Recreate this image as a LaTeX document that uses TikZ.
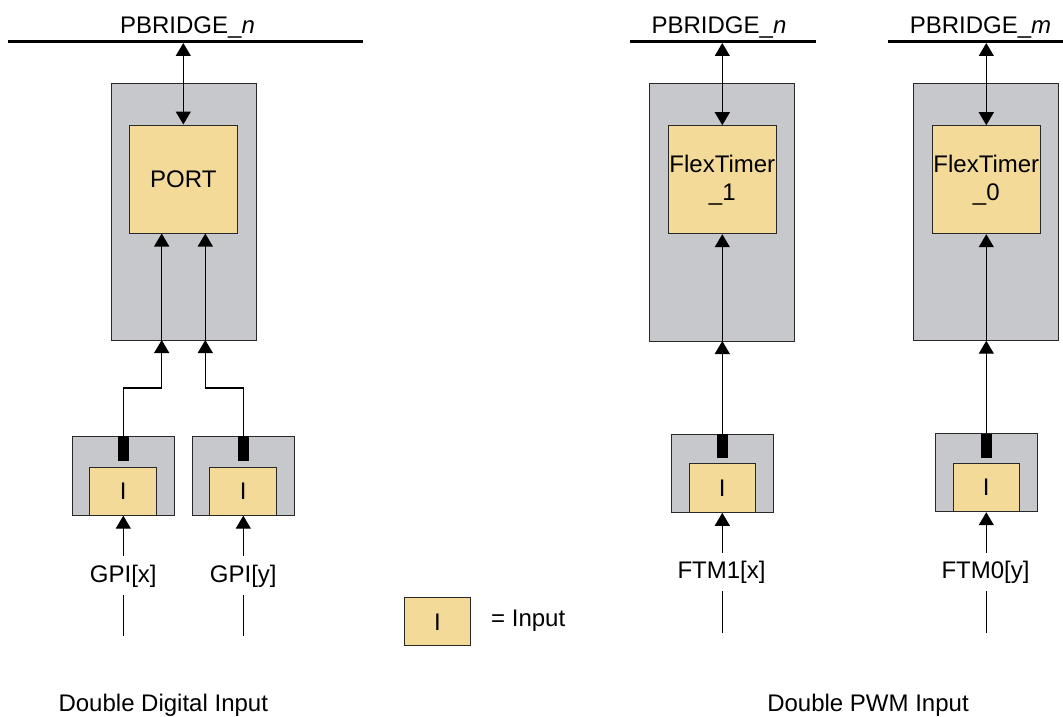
\documentclass[tikz,border=0pt]{standalone}
\usepackage{fontspec}
\setmainfont{Liberation Sans}
\usetikzlibrary{arrows.meta}
\definecolor{shell}{RGB}{198,200,204}
\definecolor{core}{RGB}{243,218,152}
\definecolor{edge}{RGB}{40,40,40}
\begin{document}
\begin{tikzpicture}[x=1pt,y=-1pt,
  every node/.style={font=\fontsize{24}{28}\selectfont},
  shellbox/.style={draw=edge,line width=1pt,fill=shell,inner sep=0pt},
  corebox/.style={draw=edge,line width=1pt,fill=core,inner sep=0pt,align=center},
  stubbar/.style={fill=black,inner sep=0pt,minimum width=11pt},
  sig/.style={inner xsep=2pt,inner ysep=8pt,anchor=base},
  title/.style={inner sep=0pt,anchor=base},
  wire/.style={line width=1.2pt},
  arr/.style={wire,-{Triangle[width=15pt,length=13pt]}},
  biarr/.style={wire,{Triangle[width=15pt,length=13pt]}-{Triangle[width=15pt,length=13pt]}},
  bus/.style={line width=3pt}]
\useasboundingbox (0,0) rectangle (1063,717);

% ---------------- Double digital input ----------------
\coordinate (busLa) at (8,42);
\coordinate (busLb) at (363,42);
\draw[bus] (busLa) -- (busLb);
\node[title] (pbL) at (187.5,33.3) {PBRIDGE\_\textit{n}};

\node[shellbox,minimum width=145pt,minimum height=256pt] (pgL) at (183.5,212) {};
\node[corebox,minimum width=108pt,minimum height=108pt] (port) at (183.3,179) {PORT};
\coordinate (tapL) at (183.3,43);
\draw[biarr] (tapL) -- (port.north);

% input pads
\node[shellbox,minimum width=102pt,minimum height=79pt] (padX) at (123.3,475.5) {};
\node[stubbar,minimum height=25pt] (stubX) at (123.3,448.5) {};
\node[corebox,minimum width=66.7pt,minimum height=47.7pt] (inX) at (123.3,491.3) {I};
\node[shellbox,minimum width=102pt,minimum height=79pt] (padY) at (243.3,475.5) {};
\node[stubbar,minimum height=25pt] (stubY) at (243.3,448.5) {};
\node[corebox,minimum width=66.7pt,minimum height=47.7pt] (inY) at (243.3,491.3) {I};

% routing into PORT
\coordinate (lvl) at (0,388);
\coordinate (enX) at (161.7,340);
\coordinate (enY) at (205.3,340);
\draw[arr] (padX.north) -- (padX.north |- lvl) -| (enX);
\draw[arr] (padY.north) -- (padY.north |- lvl) -| (enY);
\draw[arr] (enX) -- (enX |- port.south);
\draw[arr] (enY) -- (enY |- port.south);

% pins
\node[sig] (gpix) at (123.3,582) {GPI[x]};
\node[sig] (gpiy) at (243.3,582) {GPI[y]};
\coordinate (endX) at (123.3,636);
\coordinate (endY) at (243.3,636);
\draw[arr] (gpix.north) -- (inX.south);
\draw[arr] (gpiy.north) -- (inY.south);
\draw[wire] (endX) -- (gpix.south);
\draw[wire] (endY) -- (gpiy.south);

\node[title] (capL) at (163.3,711.7) {Double Digital Input};

% ---------------- legend ----------------
\node[corebox,minimum width=66.4pt,minimum height=48.3pt] (legI) at (437.5,621.8) {I};
\node[inner sep=0pt,anchor=base west] (legT) at (491,626.7) {= Input};

% ---------------- Double PWM input ----------------
\coordinate (busNa) at (630,42);
\coordinate (busNb) at (815.7,42);
\coordinate (busMa) at (887.7,42);
\coordinate (busMb) at (1063,42);
\draw[bus] (busNa) -- (busNb);
\draw[bus] (busMa) -- (busMb);
\node[title] (pbN) at (719,33.3) {PBRIDGE\_\textit{n}};
\node[title] (pbM) at (980.5,33.3) {PBRIDGE\_\textit{m}};

\node[shellbox,minimum width=145pt,minimum height=257pt] (ogA) at (722.3,212.5) {};
\node[corebox,minimum width=108pt,minimum height=108pt] (ftA) at (722.3,179.7) {FlexTimer\\\_1};
\node[shellbox,minimum width=145pt,minimum height=257pt] (ogB) at (985.5,212.4) {};
\node[corebox,minimum width=108pt,minimum height=108pt] (ftB) at (986.3,179.7) {FlexTimer\\\_0};

\coordinate (tapA) at (722.3,43);
\coordinate (tapB) at (986.3,43);
\draw[biarr] (tapA) -- (ftA.north);
\draw[biarr] (tapB) -- (ftB.north);

\node[shellbox,minimum width=102pt,minimum height=78pt] (padA) at (722.3,473.2) {};
\node[stubbar,minimum height=24pt] (stubA) at (722.3,446) {};
\node[corebox,minimum width=66pt,minimum height=48.6pt] (inA) at (722.3,488) {I};
\node[shellbox,minimum width=102pt,minimum height=78pt] (padB) at (986.3,472.7) {};
\node[stubbar,minimum height=24pt] (stubB) at (986.3,445.7) {};
\node[corebox,minimum width=66pt,minimum height=48pt] (inB) at (986.3,487.7) {I};

\coordinate (enA) at (722.3,341);
\coordinate (enB) at (986.3,340.7);
\draw[arr] (padA.north) -- (enA);
\draw[arr] (padB.north) -- (enB);
\draw[arr] (enA) -- (ftA.south);
\draw[arr] (enB) -- (ftB.south);

\node[sig] (ftmx) at (721.5,578.3) {FTM1[x]};
\node[sig] (ftmy) at (985.5,578.3) {FTM0[y]};
\coordinate (endA) at (722.3,633.3);
\coordinate (endB) at (986.3,633.3);
\draw[arr] (ftmx.north -| inA.south) -- (inA.south);
\draw[arr] (ftmy.north -| inB.south) -- (inB.south);
\draw[wire] (endA) -- (endA |- ftmx.south);
\draw[wire] (endB) -- (endB |- ftmy.south);

\node[title] (capR) at (868,711.7) {Double PWM Input};
\end{tikzpicture}
\end{document}
